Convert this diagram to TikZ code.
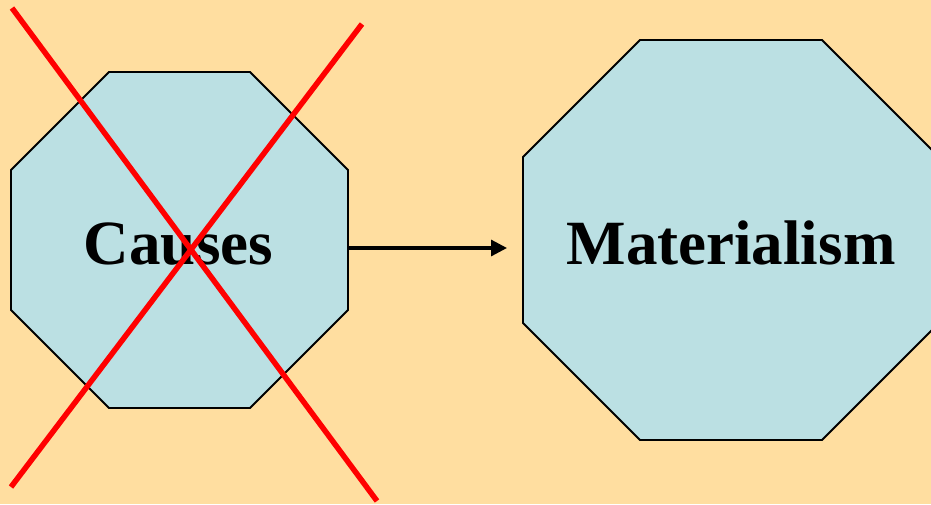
\documentclass[tikz,border=0pt]{standalone}
\usepackage{fontspec}
\setmainfont{Liberation Serif}
\usetikzlibrary{arrows.meta}
\definecolor{bgcol}{RGB}{255,222,160}
\definecolor{octfill}{RGB}{187,224,227}
\begin{document}
\begin{tikzpicture}[x=1pt,y=-1pt,
  octo/.style={draw=black,line width=1.8pt,fill=octfill,line join=miter},
  cross/.style={draw=red,line width=5.5pt},
  label/.style={font=\fontsize{63}{63}\selectfont\bfseries,inner sep=0pt,anchor=base},
  link/.style={draw=black,line width=3.2pt,-{Triangle[length=16pt,width=16pt]}}]
\useasboundingbox (0,0) rectangle (931,504);
\clip (0,0) rectangle (931,504);
\fill[bgcol] (0,0) rectangle (931,504);
% left octagon
\path[octo] (109,72) -- (250,72) -- (348,170) -- (348,310) -- (250,408) -- (109,408) -- (11,310) -- (11,170) -- cycle;
% right octagon
\path[octo] (640,40) -- (822,40) -- (939,157) -- (939,323) -- (822,440) -- (640,440) -- (523,323) -- (523,157) -- cycle;
\node[label] (causes) at (178.5,264) {Causes};
\node[label] (mat) at (731,264) {Materialism};
% cross
\coordinate (c1a) at (12,8);
\coordinate (c1b) at (377,501);
\coordinate (c2a) at (362,24);
\coordinate (c2b) at (11,487);
\draw[cross] (c1a) -- (c1b);
\draw[cross] (c2a) -- (c2b);
% arrow
\coordinate (astart) at (348,248);
\coordinate (aend) at (507,248);
\draw[link] (astart) -- (aend);
\end{tikzpicture}
\end{document}
